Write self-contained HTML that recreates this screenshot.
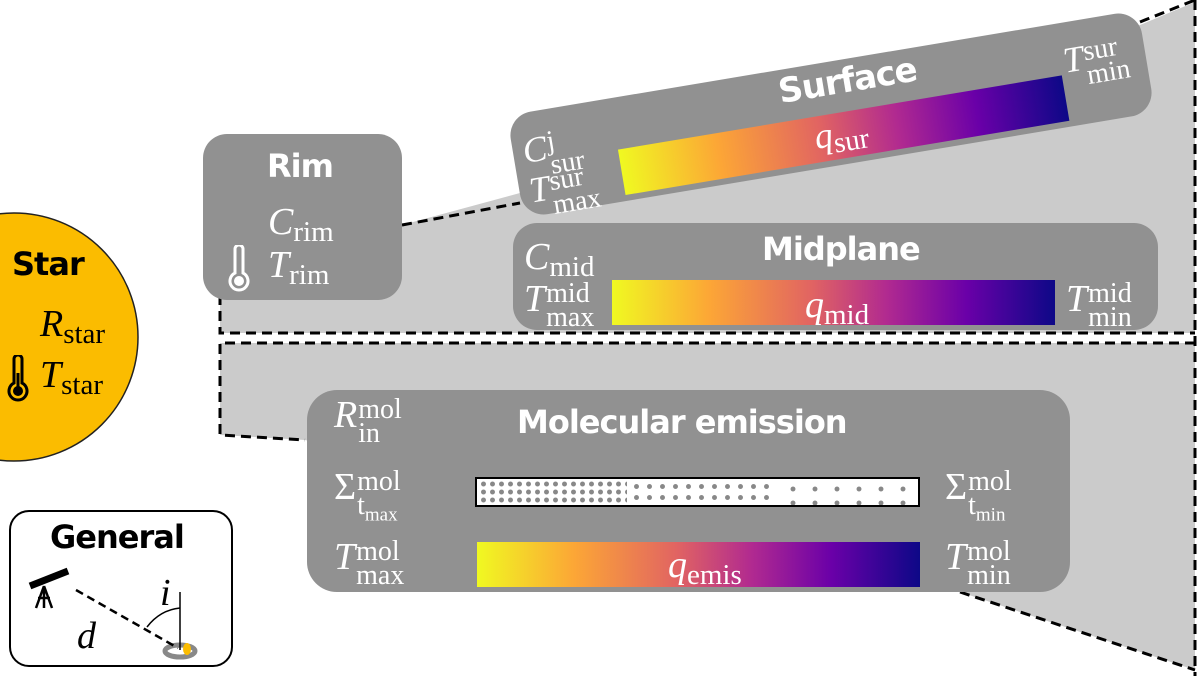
<!DOCTYPE html>
<html><head><meta charset="utf-8"><style>
body{margin:0;width:1200px;height:676px;position:relative;overflow:hidden;background:#fff;font-family:"Liberation Sans",sans-serif}
.box{position:absolute;background:#919191;border-radius:24px}
.t{position:absolute;color:#fff;font-weight:bold;font-size:32px;font-family:"DejaVu Sans","Liberation Sans",sans-serif;letter-spacing:-1px;white-space:nowrap}
.m{position:absolute;color:#fff;font-family:"Liberation Serif",serif;font-size:38px;white-space:nowrap;line-height:1}
.m i{font-style:italic}
.m .s{font-size:29px;display:inline-block;vertical-align:-7px}
.ss{display:inline-block;vertical-align:-15px;font-size:28px;line-height:24px;text-align:left;margin-left:1px}
.grad{position:absolute;background:linear-gradient(90deg,#f0f921,#fca636 22%,#e16462 45%,#b12a90 62%,#6a00a8 80%,#0d0887)}
</style></head><body>
<svg width="1200" height="676" style="position:absolute;left:0;top:0">
<polygon points="220,333 220,295 402,225 1140,25 1195,2 1195,333" fill="#cbcbcb"/>
<polygon points="220,343 1195,343 1195,670 960,592 305,440 220,435" fill="#cbcbcb"/>
<g fill="none" stroke="#000" stroke-width="3" stroke-dasharray="10,6">
<polyline points="220,295 220,333 1195,333"/>
<polyline points="402,225 520,203"/>
<polyline points="1140,22 1195,0"/>
<line x1="1195" y1="0" x2="1195" y2="676"/>
<polyline points="1195,343 220,343 220,435 305,440"/>
<polyline points="960,592 1195,670"/>
</g>
<circle cx="14" cy="337" r="124" fill="#fbbc00" stroke="#222" stroke-width="1.5"/>
</svg>
<div class="t" style="left:12px;top:245px;color:#000">Star</div>
<div class="m" style="left:40px;top:305px;color:#000"><i>R</i><span class="s">star</span></div>
<div class="m" style="left:40px;top:356px;color:#000"><i>T</i><span class="s">star</span></div>
<svg style="position:absolute;left:7px;top:355px" width="22" height="48"><path d="M7 4 a4 4 0 0 1 8 0 v24 a9 9 0 1 1 -8 0z" fill="none" stroke="#000" stroke-width="3"/><circle cx="11" cy="36" r="5" fill="#000"/><rect x="9.5" y="18" width="3" height="16" fill="#000"/></svg>

<div class="box" style="left:203px;top:134px;width:199px;height:166px"></div>
<div class="t" style="left:267px;top:147px">Rim</div>
<div class="m" style="left:268px;top:203px"><i>C</i><span class="s">rim</span></div>
<div class="m" style="left:268px;top:246px"><i>T</i><span class="s">rim</span></div>
<svg style="position:absolute;left:228px;top:245px" width="22" height="48"><path d="M7 4 a4 4 0 0 1 8 0 v24 a9 9 0 1 1 -8 0z" fill="none" stroke="#fff" stroke-width="3"/><circle cx="11" cy="36" r="5" fill="#fff"/></svg>

<div class="box" style="left:511px;top:62px;width:640px;height:104px;transform:rotate(-9.5deg);transform-origin:center">
<div class="t" style="left:272px;top:2px;font-size:34px">Surface</div>
<div class="grad" style="left:104px;top:52px;width:450px;height:46px"></div>
<div class="m" style="left:300px;top:54px;font-size:36px"><i>q</i><span class="s">sur</span></div>
<div class="m" style="left:10px;top:20px;font-size:36px"><i>C</i><span class="ss">j<br>sur</span></div>
<div class="m" style="left:10px;top:60px;font-size:36px"><i>T</i><span class="ss">sur<br>max</span></div>
<div class="m" style="left:558px;top:20px;font-size:36px"><i>T</i><span class="ss">sur<br>min</span></div>
</div>

<div class="box" style="left:513px;top:223px;width:645px;height:107px"></div>
<div class="t" style="left:762px;top:230px">Midplane</div>
<div class="m" style="left:524px;top:238px"><i>C</i><span class="s">mid</span></div>
<div class="grad" style="left:612px;top:280px;width:443px;height:45px"></div>
<div class="m" style="left:805px;top:286px;color:#fff"><i>q</i><span class="s">mid</span></div>
<div class="m" style="left:524px;top:280px"><i>T</i><span class="ss">mid<br>max</span></div>
<div class="m" style="left:1066px;top:280px"><i>T</i><span class="ss">mid<br>min</span></div>

<div class="box" style="left:307px;top:390px;width:763px;height:202px;border-radius:30px"></div>
<div class="t" style="left:517px;top:403px">Molecular emission</div>
<div class="m" style="left:334px;top:396px"><i>R</i><span class="ss">mol<br>in</span></div>
<div class="m" style="left:334px;top:468px">Σ<span class="ss">mol<br>t<sub style="font-size:19px">max</sub></span></div>
<div class="m" style="left:945px;top:468px">Σ<span class="ss">mol<br>t<sub style="font-size:19px">min</sub></span></div>
<div style="position:absolute;left:475px;top:477px;width:441px;height:26px;background:#fff;border:2px solid #000;overflow:hidden">
<div style="position:absolute;left:0;top:0;width:150px;height:26px;background-image:radial-gradient(circle,#888 2.2px,transparent 2.7px);background-size:9px 8px;background-position:2px 1px"></div>
<div style="position:absolute;left:150px;top:0;width:150px;height:26px;background-image:radial-gradient(circle,#888 2.2px,transparent 2.7px);background-size:13px 11px;background-position:3px 2px"></div>
<div style="position:absolute;left:300px;top:0;width:141px;height:26px;background-image:radial-gradient(circle,#888 2.2px,transparent 2.7px);background-size:22px 14px;background-position:5px 3px"></div>
</div>
<div class="grad" style="left:477px;top:542px;width:443px;height:45px"></div>
<div class="m" style="left:668px;top:546px"><i>q</i><span class="s">emis</span></div>
<div class="m" style="left:334px;top:538px"><i>T</i><span class="ss">mol<br>max</span></div>
<div class="m" style="left:945px;top:538px"><i>T</i><span class="ss">mol<br>min</span></div>

<div style="position:absolute;left:9px;top:510px;width:220px;height:153px;border:2.5px solid #000;border-radius:20px;background:#fff"></div>
<div class="t" style="left:50px;top:518px;color:#000">General</div>
<svg style="position:absolute;left:0;top:480px" width="240" height="196">
<ellipse cx="180" cy="171" rx="15" ry="6" fill="none" stroke="#888" stroke-width="5"/>
<ellipse cx="187" cy="169" rx="4" ry="6" fill="#fbbc00"/>
<line x1="180" y1="112" x2="180" y2="170" stroke="#000" stroke-width="1.5"/>
<path d="M147 147 Q160 130 180 128" fill="none" stroke="#000" stroke-width="1.5"/>
<line x1="76" y1="110" x2="178" y2="168" stroke="#000" stroke-width="2.5" stroke-dasharray="8,5"/>
<line x1="30" y1="106" x2="68" y2="91" stroke="#000" stroke-width="7"/>
<path d="M44 106 L36 128 M44 106 L52 128 M44 106 V128 M38 118 H50" stroke="#000" stroke-width="2.5" fill="none"/>
</svg>
<div class="m" style="left:160px;top:574px;color:#000"><i>i</i></div>
<div class="m" style="left:77px;top:617px;color:#000"><i>d</i></div>
</body></html>
